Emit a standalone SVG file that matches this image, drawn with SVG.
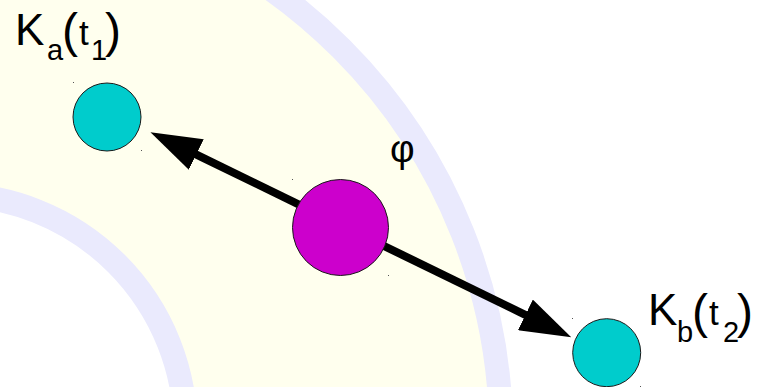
<svg xmlns="http://www.w3.org/2000/svg" width="760" height="387" viewBox="0 0 760 387">
  <style>
    .band { fill: none; stroke: #eaeafd; stroke-width: 24; }
    .zone { fill: #ffffee; fill-rule: evenodd; }
    .probe { fill: #00cccc; stroke: #1a1a1a; stroke-width: 1; }
    .source { fill: #cc00cc; stroke: #1a1a1a; stroke-width: 1; }
    .link { stroke: #000; stroke-width: 8; fill: none; }
    .lbl { font-family: "Liberation Sans", Arial, sans-serif; fill: #000; }
    .big { font-size: 44px; }
    .sub { font-size: 29px; }
    .par { font-size: 48px; }
    .var { font-size: 35px; }
    .tick { fill: #555; }
  </style>
  <defs>
    <marker id="head" markerUnits="userSpaceOnUse" viewBox="0 0 51 34" refX="1" refY="17" markerWidth="51" markerHeight="34" orient="auto">
      <path d="M0,0 L51,17 L0,34 Z" fill="#000"/>
    </marker>
  </defs>

  <rect width="760" height="387" fill="#ffffff"/>

  <!-- pale annular zone between the two arcs -->
  <g id="zone">
    <path class="zone" d="M-589,434 a545,545 0 1,0 1090,0 a545,545 0 1,0 -1090,0 Z M-285.5,430 a235.5,235.5 0 1,0 471,0 a235.5,235.5 0 1,0 -471,0 Z"/>
    <circle class="band" cx="-44" cy="434" r="545"/>
    <circle class="band" cx="-50" cy="430" r="235.5"/>
  </g>

  <!-- connectors -->
  <g id="connectors">
    <line class="link" x1="340.5" y1="224.8" x2="195.4" y2="154.1" marker-end="url(#head)"/>
    <line class="link" x1="340.5" y1="224.8" x2="526.3" y2="315.3" marker-end="url(#head)"/>
  </g>

  <!-- nodes -->
  <g id="node-ka">
    <circle class="probe" cx="107" cy="117" r="34"/>
    <rect class="tick" x="73" y="82" width="1" height="1"/>
    <rect class="tick" x="141" y="150" width="1" height="1"/>
    <text class="lbl">
      <tspan class="big" x="15" y="45">K</tspan>
      <tspan class="sub" x="47" y="60">a</tspan>
      <tspan class="par" x="62" y="47">(</tspan>
      <tspan class="var" x="79" y="45">t</tspan>
      <tspan class="sub" x="91" y="60">1</tspan>
      <tspan class="par" x="105" y="47">)</tspan>
    </text>
  </g>

  <g id="node-phi">
    <circle class="source" cx="340.5" cy="227.5" r="48"/>
    <rect class="tick" x="292" y="179" width="1" height="1"/>
    <rect class="tick" x="388" y="275" width="1" height="1"/>
    <text class="lbl" x="390" y="162" font-size="38">φ</text>
  </g>

  <g id="node-kb">
    <circle class="probe" cx="606.7" cy="352.7" r="34"/>
    <rect class="tick" x="572" y="318" width="1" height="1"/>
    <rect class="tick" x="640" y="386" width="1" height="1"/>
    <text class="lbl">
      <tspan class="big" x="648" y="325">K</tspan>
      <tspan class="sub" x="677" y="342">b</tspan>
      <tspan class="par" x="692" y="328">(</tspan>
      <tspan class="var" x="709" y="325">t</tspan>
      <tspan class="sub" x="723" y="342">2</tspan>
      <tspan class="par" x="737" y="328">)</tspan>
    </text>
  </g>
</svg>
